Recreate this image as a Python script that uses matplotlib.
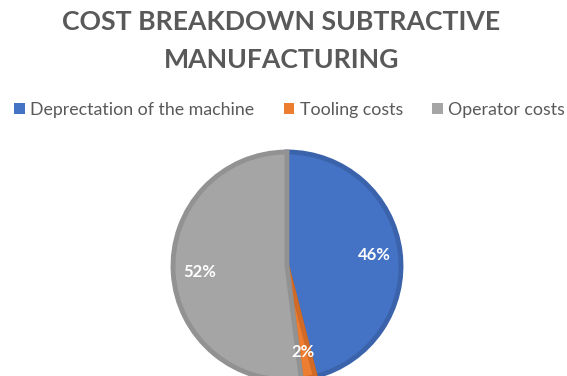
import matplotlib.pyplot as plt
from matplotlib.patches import Patch

# Cost shares (%)
labels = ['Deprectation of the machine', 'Tooling costs', 'Operator costs']
shares = [46, 2, 52]
colors = ['#4472C4', '#ED7D31', '#A5A5A5']
edges = ['#3A63AC', '#D06A26', '#929292']

plt.rcParams['font.family'] = ['Lato', 'DejaVu Sans']

W, H = 567, 376
fig = plt.figure(figsize=(W / 100, H / 100), dpi=100)

# Pie axes: centre (287, 266) px from top-left, radius 114 px
cx, cy, r = 287, 266, 114
ax = fig.add_axes([(cx - r) / W, (H - cy - r) / H, 2 * r / W, 2 * r / H])
wedges, _, autotexts = ax.pie(
    shares, colors=colors, startangle=90, counterclock=False,
    autopct='%1.0f%%', pctdistance=0.77,
    wedgeprops=dict(linewidth=3.5),
    textprops=dict(color='white', fontsize=12, fontweight='bold'))
for w, ec in zip(wedges, edges):
    w.set_edgecolor(ec)
    w.set_clip_on(False)
ax.set_xlim(-1, 1)
ax.set_ylim(-1, 1)
ax.axis('off')

fig.text(0.496, 1 - 41 / H, 'COST BREAKDOWN SUBTRACTIVE\nMANUFACTURING',
         ha='center', va='center', fontsize=19.2, fontweight='bold',
         color='#595959', linespacing=1.65)

handles = [Patch(facecolor=c) for c in colors]
fig.legend(handles, labels, ncol=3, loc='center',
           bbox_to_anchor=(0.511, 1 - 110 / H), frameon=False,
           fontsize=12.8, labelcolor='#595959', handlelength=0.6,
           handleheight=0.6, handletextpad=0.3, columnspacing=1.65)

fig.savefig('out.png', dpi=100)
